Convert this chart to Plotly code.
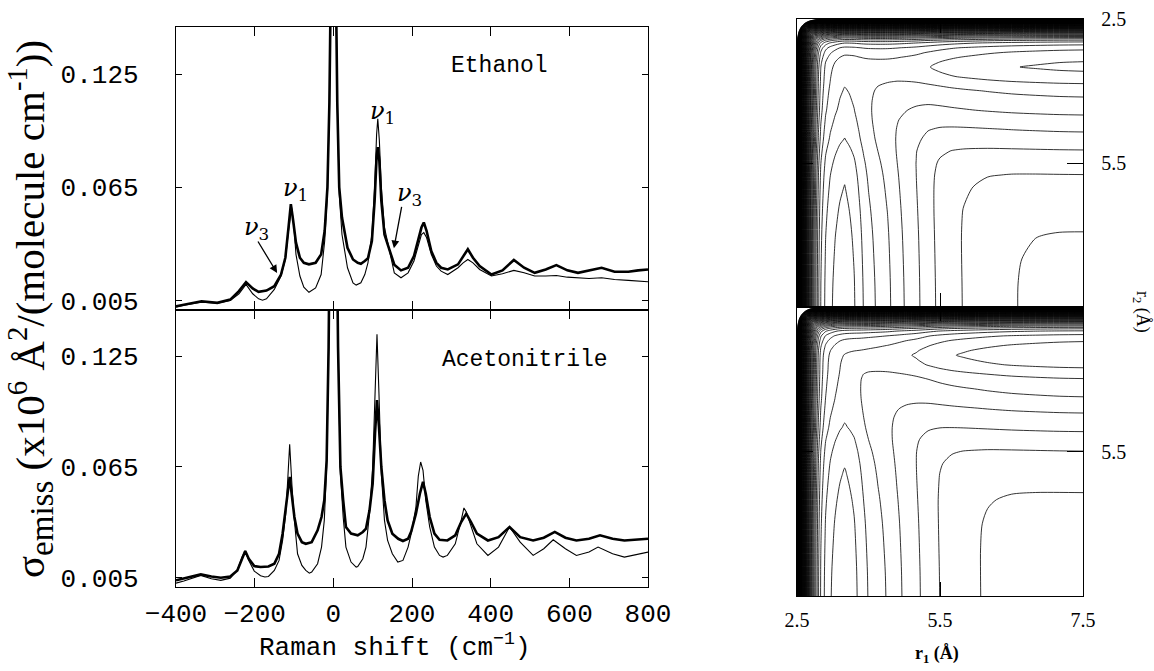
import numpy as np
import plotly.graph_objects as go

# ---------------- spectra ----------------
eth_exp_x = [-400, -380, -335, -295, -262, -240, -222, -205, -190, -170,
             -150, -133, -122, -114, -108, -102, -95, -85, -75, -62,
             -45, -31, -22, -15, -10, -5, 0, 5, 10, 15,
             22, 36, 50, 62, 70, 80, 88, 98, 105, 110,
             113, 117, 122, 130, 142, 155, 172, 190, 205, 215,
             224, 230, 237, 249, 262, 274, 291, 317, 330, 342,
             355, 372, 402, 430, 459, 485, 512, 540, 567, 595,
             622, 650, 682, 715, 750, 775, 800]
eth_exp_y = [0.0020, 0.0029, 0.0046, 0.0038, 0.0055, 0.0100, 0.0148, 0.0114, 0.0096, 0.0103,
             0.0126, 0.0188, 0.0277, 0.0437, 0.0561, 0.0472, 0.0357, 0.0277, 0.0250, 0.0242,
             0.0250, 0.0295, 0.0420, 0.0650, 0.1100, 0.2000, 0.4000, 0.2000, 0.1100, 0.0650,
             0.0490, 0.0330, 0.0268, 0.0250, 0.0245, 0.0260, 0.0274, 0.0366, 0.0580, 0.0810,
             0.0863, 0.0790, 0.0580, 0.0400, 0.0320, 0.0240, 0.0210, 0.0224, 0.0286, 0.0366,
             0.0437, 0.0464, 0.0420, 0.0313, 0.0250, 0.0224, 0.0215, 0.0242, 0.0286, 0.0322,
             0.0277, 0.0233, 0.0188, 0.0210, 0.0265, 0.0224, 0.0197, 0.0215, 0.0238, 0.0210,
             0.0197, 0.0210, 0.0224, 0.0203, 0.0203, 0.0210, 0.0215]

eth_calc_x = [-400, -380, -335, -295, -262, -240, -222, -205, -190, -180,
              -170, -150, -133, -122, -114, -106, -100, -95, -85, -75,
              -62, -45, -31, -22, -15, -10, -5, 0, 5, 10,
              15, 22, 36, 50, 58, 70, 80, 88, 98, 105,
              110, 113, 117, 122, 130, 142, 155, 172, 190, 205,
              215, 224, 230, 237, 249, 262, 274, 291, 317, 330,
              342, 355, 372, 402, 430, 459, 485, 512, 540, 567,
              595, 622, 650, 682, 715, 750, 775, 800]
eth_calc_y = [0.0015, 0.0025, 0.0041, 0.0036, 0.0050, 0.0086, 0.0135, 0.0086, 0.0059, 0.0052,
              0.0059, 0.0109, 0.0180, 0.0268, 0.0419, 0.0543, 0.0437, 0.0295, 0.0180, 0.0121,
              0.0094, 0.0117, 0.0188, 0.0366, 0.0615, 0.1100, 0.2000, 0.4000, 0.2000, 0.1100,
              0.0615, 0.0400, 0.0224, 0.0144, 0.0132, 0.0144, 0.0188, 0.0250, 0.0400, 0.0650,
              0.0930, 0.1014, 0.0899, 0.0650, 0.0437, 0.0313, 0.0197, 0.0171, 0.0197, 0.0260,
              0.0339, 0.0400, 0.0410, 0.0384, 0.0295, 0.0233, 0.0206, 0.0188, 0.0224, 0.0250,
              0.0268, 0.0250, 0.0215, 0.0180, 0.0192, 0.0210, 0.0197, 0.0180, 0.0180, 0.0183,
              0.0174, 0.0171, 0.0167, 0.0171, 0.0162, 0.0157, 0.0153, 0.0150]

acn_exp_x = [-400, -380, -337, -310, -286, -262, -244, -232, -224, -215,
             -201, -185, -165, -150, -138, -129, -121, -116, -111, -105,
             -99, -91, -80, -70, -55, -40, -30, -23, -17, -12,
             -6, 0, 6, 12, 18, 25, 32, 45, 62, 75,
             83, 92, 100, 106, 111, 116, 122, 130, 138, 150,
             165, 177, 190, 198, 210, 220, 228, 235, 245, 257,
             270, 290, 310, 325, 338, 350, 365, 393, 420, 448,
             475, 508, 535, 563, 590, 618, 650, 678, 710, 740,
             770, 800]
acn_exp_y = [0.0036, 0.0045, 0.0068, 0.0057, 0.0050, 0.0057, 0.0090, 0.0153, 0.0195, 0.0153,
             0.0113, 0.0108, 0.0111, 0.0126, 0.0180, 0.0289, 0.0433, 0.0540, 0.0596, 0.0487,
             0.0379, 0.0289, 0.0243, 0.0234, 0.0243, 0.0307, 0.0379, 0.0470, 0.0686, 0.1300,
             0.2500, 0.4000, 0.2500, 0.1300, 0.0650, 0.0470, 0.0325, 0.0289, 0.0280, 0.0298,
             0.0316, 0.0415, 0.0560, 0.0830, 0.1012, 0.0867, 0.0650, 0.0470, 0.0360, 0.0289,
             0.0261, 0.0249, 0.0261, 0.0300, 0.0397, 0.0505, 0.0569, 0.0505, 0.0379, 0.0289,
             0.0256, 0.0252, 0.0280, 0.0352, 0.0397, 0.0352, 0.0289, 0.0252, 0.0270, 0.0325,
             0.0270, 0.0252, 0.0267, 0.0298, 0.0267, 0.0252, 0.0261, 0.0280, 0.0261, 0.0252,
             0.0256, 0.0261]

acn_calc_x = [-400, -380, -337, -310, -286, -262, -244, -232, -224, -215,
              -201, -185, -174, -165, -150, -138, -129, -121, -116, -111,
              -105, -99, -91, -80, -70, -61, -55, -40, -30, -23,
              -17, -12, -6, 0, 6, 12, 18, 25, 32, 45,
              58, 62, 75, 83, 92, 100, 106, 111, 116, 122,
              130, 138, 150, 164, 177, 190, 198, 210, 216, 222,
              228, 235, 245, 257, 270, 279, 290, 310, 325, 332,
              338, 350, 365, 393, 420, 448, 475, 508, 535, 559,
              590, 618, 650, 673, 710, 740, 770, 800]
acn_calc_y = [0.0021, 0.0032, 0.0063, 0.0045, 0.0036, 0.0048, 0.0093, 0.0162, 0.0195, 0.0144,
              0.0086, 0.0061, 0.0054, 0.0057, 0.0090, 0.0144, 0.0252, 0.0397, 0.0578, 0.0773,
              0.0542, 0.0361, 0.0180, 0.0117, 0.0090, 0.0075, 0.0081, 0.0126, 0.0216, 0.0361,
              0.0650, 0.1300, 0.2500, 0.4000, 0.2500, 0.1300, 0.0614, 0.0379, 0.0216, 0.0135,
              0.0108, 0.0111, 0.0153, 0.0216, 0.0397, 0.0650, 0.1012, 0.1368, 0.1048, 0.0614,
              0.0361, 0.0252, 0.0180, 0.0135, 0.0144, 0.0216, 0.0289, 0.0433, 0.0600, 0.0677,
              0.0632, 0.0469, 0.0325, 0.0216, 0.0171, 0.0162, 0.0171, 0.0234, 0.0361, 0.0428,
              0.0406, 0.0325, 0.0234, 0.0171, 0.0216, 0.0325, 0.0243, 0.0171, 0.0207, 0.0256,
              0.0207, 0.0171, 0.0189, 0.0216, 0.0180, 0.0162, 0.0176, 0.0189]

x_ticks = [-400, -200, 0, 200, 400, 600, 800]
y_ticks = [0.005, 0.065, 0.125]
y_ticktext = ["0.005", "0.065", "0.125"]

# ---------------- potential surfaces (estimated profiles) ----------------
r_grid = [2.5, 2.55, 2.6, 2.65, 2.7, 2.75, 2.8, 2.85, 2.9, 2.95,
          3.0, 3.1, 3.2, 3.3, 3.4, 3.5, 3.6, 3.7, 3.8, 3.9,
          4.0, 4.2, 4.4, 4.6, 4.8, 5.0, 5.25, 5.5, 5.75, 6.0,
          6.5, 7.0, 7.5, 8.0, 8.5]
wall_profile = [60, 46, 35, 27, 20, 15, 11, 8, 5.7, 4.0,
                2.8, 1.6, 1.0, 0.6, 0.3, 0.12, 0.04, 0, 0, 0,
                0, 0, 0, 0, 0, 0, 0, 0, 0, 0,
                0, 0, 0, 0, 0]
bond_profile = [1, 1, 1, 1, 1, 1, 1, 1, 1, 1,
                1, 1, 1, 1, 1, 1.0, 0.96, 0.92, 0.86, 0.8,
                0.75, 0.68, 0.62, 0.54, 0.47, 0.41, 0.32, 0.25, 0.2, 0.165,
                0.11, 0.07, 0.045, 0.025, 0.015]
# channel depths (r1 bond, r2 bond) and corner barrier for each solvent
eth_depths = [9.5, 8.0]
eth_barrier = 4.6
acn_depths = [8.0, 8.0]
acn_barrier = 4.8
r_ticks_x = [2.5, 5.5, 8.5]
r_ticktext_x = ["2.5", "5.5", "7.5"]


def surface(depths, barrier):
    w = np.array(wall_profile, float)
    q = np.array(bond_profile, float)
    w1, q1 = w[None, :], q[None, :]
    w2, q2 = w[:, None], q[:, None]
    attract = ((depths[0] * q1) ** 3 + (depths[1] * q2) ** 3) ** (1.0 / 3.0)
    return w1 + w2 - attract + barrier * q1 * q2


z_eth = surface(eth_depths, eth_barrier)
z_acn = surface(acn_depths, acn_barrier)

W, H = 1154, 671
def px(x):
    return x / W
def py(y):
    return 1 - y / H

MONO = "Liberation Mono"
SERIF = "Liberation Serif"

fig = go.Figure()
thin = dict(color="black", width=1.1)
thick = dict(color="black", width=2.6)
fig.add_trace(go.Scatter(x=eth_calc_x, y=eth_calc_y, mode="lines", line=thin, xaxis="x", yaxis="y"))
fig.add_trace(go.Scatter(x=eth_exp_x, y=eth_exp_y, mode="lines", line=thick, xaxis="x", yaxis="y"))
fig.add_trace(go.Scatter(x=acn_calc_x, y=acn_calc_y, mode="lines", line=thin, xaxis="x2", yaxis="y2"))
fig.add_trace(go.Scatter(x=acn_exp_x, y=acn_exp_y, mode="lines", line=thick, xaxis="x2", yaxis="y2"))

cont = dict(start=-8.6, end=56, size=1, coloring="lines")
fig.add_trace(go.Contour(x=r_grid, y=r_grid, z=z_eth, xaxis="x3", yaxis="y3",
                         contours=cont, colorscale=[[0, "black"], [1, "black"]],
                         showscale=False, line=dict(width=0.8, smoothing=0.8)))
cont2 = dict(start=-7, end=56, size=1, coloring="lines")
fig.add_trace(go.Contour(x=r_grid, y=r_grid, z=z_acn, xaxis="x4", yaxis="y4",
                         contours=cont2, colorscale=[[0, "black"], [1, "black"]],
                         showscale=False, line=dict(width=0.8, smoothing=0.8)))

left_dom = [px(176), px(648)]
top_dom = [py(310), py(27)]
bot_dom = [py(587), py(310)]
right_dom = [px(797), px(1083)]
rtop_dom = [py(307), py(19)]
rbot_dom = [py(596), py(307)]

ax_common = dict(showline=True, linecolor="black", linewidth=1.4, mirror="ticks",
                 ticks="inside", tickcolor="black", showgrid=False, zeroline=False,
                 automargin=False)

fig.update_layout(
    width=W, height=H, margin=dict(l=0, r=0, t=0, b=0, autoexpand=False),
    paper_bgcolor="white", plot_bgcolor="white", showlegend=False,
    xaxis=dict(domain=left_dom, anchor="y", range=[-400, 800], tickvals=x_ticks,
               showticklabels=False, ticklen=9, **ax_common),
    yaxis=dict(domain=top_dom, anchor="x", range=[0, 0.15], tickvals=y_ticks, ticktext=y_ticktext,
               ticklen=6, tickfont=dict(family=MONO, size=26, color="black"),
               ticklabelstandoff=31, **ax_common),
    xaxis2=dict(domain=left_dom, anchor="y2", range=[-400, 800], tickvals=x_ticks,
                ticklen=9, tickfont=dict(family=MONO, size=26, color="black"),
                ticklabelstandoff=3, **ax_common),
    yaxis2=dict(domain=bot_dom, anchor="x2", range=[0, 0.15], tickvals=y_ticks, ticktext=y_ticktext,
                ticklen=6, tickfont=dict(family=MONO, size=26, color="black"),
                ticklabelstandoff=31, **ax_common),
    xaxis3=dict(domain=right_dom, anchor="y3", range=[2.5, 8.5], tickvals=[5.5],
                showticklabels=False, ticklen=14, **ax_common),
    yaxis3=dict(domain=rtop_dom, anchor="x3", range=[8.5, 2.5], side="right",
                tickvals=[2.5, 5.5], ticktext=["2.5", "5.5"], ticklen=16,
                tickfont=dict(family=SERIF, size=20, color="black"), ticklabelstandoff=13, **ax_common),
    xaxis4=dict(domain=right_dom, anchor="y4", range=[2.5, 8.5], tickvals=r_ticks_x,
                ticktext=r_ticktext_x, ticklen=14,
                tickfont=dict(family=SERIF, size=20, color="black"), ticklabelstandoff=6, **ax_common),
    yaxis4=dict(domain=rbot_dom, anchor="x4", range=[8.5, 2.5], side="right",
                tickvals=[5.5], ticktext=["5.5"], ticklen=16,
                tickfont=dict(family=SERIF, size=20, color="black"), ticklabelstandoff=13, **ax_common),
)

ann = []
def label(text, cx, cy, font, **kw):
    ann.append(dict(text=text, x=px(cx), y=py(cy), xref="paper", yref="paper", showarrow=False,
                    xanchor="center", yanchor="middle", font=font, **kw))

label("Ethanol", 499, 66, dict(family=MONO, size=23, color="black"))
label("Acetonitrile", 525, 360, dict(family=MONO, size=23, color="black"))
nu_font = dict(family="DejaVu Serif", size=24, color="black")
for txt, cx, cy in [("<i>ν</i><sub>3</sub>", 256, 228), ("<i>ν</i><sub>1</sub>", 295, 189),
                    ("<i>ν</i><sub>1</sub>", 383, 112), ("<i>ν</i><sub>3</sub>", 409, 194)]:
    label(txt, cx, cy, nu_font)
# arrows
ann.append(dict(text="", x=-143, y=0.0196, xref="x", yref="y", ax=-20, ay=-33,
                showarrow=True, arrowhead=2, arrowsize=1.2, arrowwidth=1.3, arrowcolor="black"))
ann.append(dict(text="", x=154, y=0.0327, xref="x", yref="y", ax=8, ay=-43,
                showarrow=True, arrowhead=2, arrowsize=1.2, arrowwidth=1.3, arrowcolor="black"))
# axis titles
label("Raman shift (cm<sup>−1</sup>)", 395, 646, dict(family=MONO, size=26, color="black"))
label("σ<sub><span style=\"font-size:33px\">emiss</span></sub> (x10<sup>6</sup> Å<sup>2</sup>"
      "/(molecule cm<sup>-1</sup>))", 31, 309,
      dict(family=SERIF, size=41, color="black"), textangle=-90)
label("<b>r<sub>1</sub> (Å)</b>", 937, 654, dict(family=SERIF, size=18, color="black"))
label("r<sub>2</sub> (Å)", 1141, 312, dict(family=SERIF, size=18, color="black"), textangle=90)
fig.update_layout(annotations=ann)

fig.write_html("out.html")
